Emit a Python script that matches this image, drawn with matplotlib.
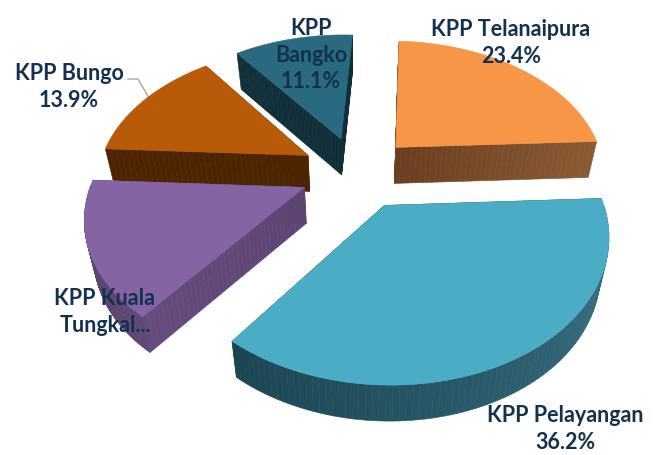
import numpy as np
import matplotlib
matplotlib.use("Agg")
import matplotlib.pyplot as plt
from matplotlib.colors import to_rgb

# order is clockwise from the top
names = ["KPP Telanaipura", "KPP Pelayangan", "KPP Kuala\nTungkal...", "KPP Bungo", "KPP\nBangko"]
values = [23.4, 36.2, 15.4, 13.9, 11.1]
show_pct = [True, True, False, True, True]

top_colors = ["#F79646", "#4BACC6", "#8464A3", "#B85A08", "#2A6A80"]
arc_colors = [("#6B3F1E", "#6B3F1E"), ("#3B7488", "#1B4552"), ("#5C4472", "#5C4472"),
              ("#4D2400", "#4D2400"), ("#0F2E38", "#0F2E38")]
edge_colors = [("#6A3E1F", "#8A5A33"), ("#1B4552", "#1B4552"), ("#5C4472", "#654B7E"),
               ("#4D2400", "#4D2400"), ("#0F2E38", "#0F2E38")]

label_xy = [(511, 43), (565, 429), (105, 312), (69, 87), (311, 55)]

# projection of the pie plane onto the 654x455 pixel canvas
start = 3.0
explode = 0.27
cx, cy = 357, 172
f, a, p = 210, 133.6, 0.18
depth = 36
shrink = 0.035
text_color = "#14304F"


def project(u, v):
    s = 1 / (1 + p * v)
    return cx + f * u * s, cy - a * v * s


def drop(x, y):
    return x + (cx - x) * shrink, y + depth


def mix(c1, c2, t):
    c1, c2 = np.array(to_rgb(c1)), np.array(to_rgb(c2))
    return tuple(c1 + (c2 - c1) * t)


def wall(ax, xs, ys, c1, c2, z):
    bx, by = drop(xs, ys)
    n = len(xs) - 1
    for i in range(n):
        col = mix(c1, c2, i / max(n - 1, 1))
        ax.fill([xs[i], xs[i + 1], bx[i + 1], bx[i]], [ys[i], ys[i + 1], by[i + 1], by[i]],
                color=col, lw=0.4, zorder=z)


fig = plt.figure(figsize=(6.54, 4.55), dpi=100)
ax = fig.add_axes([0, 0, 1, 1])
ax.set_xlim(0, 654)
ax.set_ylim(455, 0)
ax.axis("off")

total = sum(values)
edges = start + np.cumsum([0] + values) / total * 360
draw_order = [4, 0, 3, 2, 1]

for k, i in enumerate(draw_order):
    t0, t1 = np.radians(edges[i]), np.radians(edges[i + 1])
    mid = (t0 + t1) / 2
    u0, v0 = explode * np.sin(mid), explode * np.cos(mid)
    th = np.linspace(t0, t1, 90)
    arc_x, arc_y = project(u0 + np.sin(th), v0 + np.cos(th))
    z = 2 + k * 3

    # radial side walls
    for t in (t1, t0):
        r = np.linspace(0, 1, 40)
        sx, sy = project(u0 + r * np.sin(t), v0 + r * np.cos(t))
        wall(ax, sx, sy, edge_colors[i][0], edge_colors[i][1], z)

    # outer wall, only the part facing the viewer
    front = np.cos(th) < 0.02
    if front.sum() > 1:
        wall(ax, arc_x[front], arc_y[front], arc_colors[i][0], arc_colors[i][1], z)

    ax_, ay_ = project(u0, v0)
    ax.fill(np.r_[ax_, arc_x], np.r_[ay_, arc_y], color=top_colors[i], lw=0.4, zorder=z + 1)

for name, val, pct, (x, y) in zip(names, values, show_pct, label_xy):
    label = f"{name}\n{val}%" if pct else name
    ax.text(x, y, label, ha="center", va="center", fontsize=15.5, fontweight="bold",
            family="Lato", color=text_color, linespacing=1.35, zorder=30)

# leader line of the Bungo label
ax.plot([128, 138, 149], [79, 79, 98], color="#A6A6A6", lw=1, zorder=1)

fig.savefig("out.png", dpi=100)
